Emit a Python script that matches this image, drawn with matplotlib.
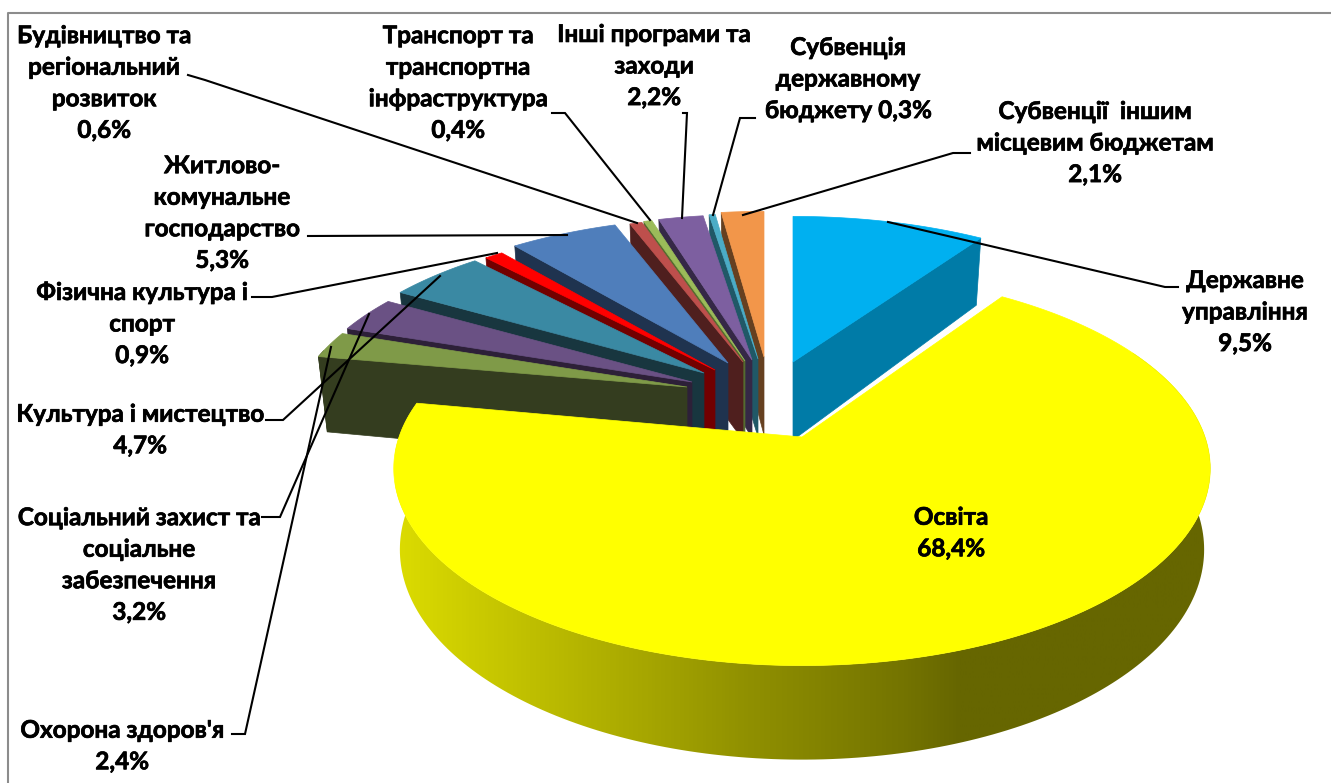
import numpy as np
import matplotlib
matplotlib.use('Agg')
import matplotlib.pyplot as plt
import matplotlib.patheffects as pe
from matplotlib.patches import Polygon
from matplotlib.colors import LinearSegmentedColormap

plt.rcParams['font.family'] = ['Lato', 'DejaVu Sans']

# data, in pie order (clockwise from 12 o'clock)
names = ["Державне\nуправління", "Освіта", "Охорона здоров'я",
         "Соціальний захист та\nсоціальне\nзабезпечення", "Культура і мистецтво",
         "Фізична культура і\nспорт", "Житлово-\nкомунальне\nгосподарство",
         "Будівництво та\nрегіональний\nрозвиток", "Транспорт та\nтранспортна\nінфраструктура",
         "Інші програми та\nзаходи", "Субвенція\nдержавному\nбюджету", "Субвенції  іншим\nмісцевим бюджетам"]
values = [9.5, 68.4, 2.4, 3.2, 4.7, 0.9, 5.3, 0.6, 0.4, 2.2, 0.3, 2.1]

# colours
top_col = ['#00B0F0', '#FFFF00', '#7F9A48', '#6A5184', '#3A89A3', '#FF0000',
           '#4F7EBB', '#BE4F4C', '#9BBB59', '#7D5FA0', '#4BACC6', '#F2964A']
side_col = ['#007BA7', '#666600', '#343D1F', '#2D2038', '#18363F', '#720000',
            '#1F334F', '#4F1F1E', '#556B2F', '#352846', '#205867', '#664020']

# where each slice tip sits (explosion), pixels
tip_x = [793, 802, 687, 692, 704, 715, 728, 743, 745, 752, 758, 764]
tip_y = [362, 437, 387, 382, 373, 370, 363, 362, 361, 360, 359, 357]
# perspective of the disc
rad_a = [388, 403] + [388] * 10
rad_b = [174, 192] + [174] * 10
persp = [0.195, 0.16] + [0.195] * 10
thick = [78, 79] + [78] * 10
shrink = [0.976, 0.985] + [0.976] * 10

# leader lines and label centres
leaders = [[(1178, 287), (1165, 287), (888, 222)], None,
           [(232, 734), (245, 734), (331, 347)],
           [(262, 517), (280, 517), (369, 314)],
           [(266, 420), (283, 420), (440, 276)],
           [(252, 297), (272, 297), (497, 253)],
           [(308, 236), (567, 235)],
           [(188, 75), (205, 80), (637, 223)],
           [(552, 113), (565, 113), (650, 220)],
           [(683, 113), (687, 113), (682, 218)],
           [(755, 118), (740, 118), (713, 215)],
           [(970, 153), (953, 153), (743, 215)]]
label_x = [1245, 951, 122, 139, 140, 142, 222, 104, 458, 654, 848, 1095]
label_y = [312, 533, 746, 565, 430, 324, 213, 83, 83, 66, 79, 143]

fig = plt.figure(figsize=(13.31, 7.83), dpi=100)
ax = fig.add_axes([0, 0, 1, 1])
ax.set_xlim(0, 1331)
ax.set_ylim(783, 0)
ax.axis('off')

# outer frame, only left and top are in the picture
ax.plot([8, 8, 1331], [783, 13, 13], color='#8C8C8C', lw=1.5, zorder=0)

edges = np.cumsum([0] + values) / 100 * 2 * np.pi


def disc(i, th):
    s = 1 + persp[i] * np.cos(th)
    x = tip_x[i] + rad_a[i] * np.sin(th) / s
    y = tip_y[i] - rad_b[i] * np.cos(th) / s
    return x, y


def lower(i, x, y, th):
    # the underside is a bit further from the viewer
    s = 1 + persp[i] * np.cos(th)
    return tip_x[i] + (x - tip_x[i]) * shrink[i], y + thick[i] / s


def sector(i):
    th = np.linspace(edges[i], edges[i + 1], 240)
    x, y = disc(i, th)
    return th, x, y


# back slices first: orange down to olive, then blue, then yellow
order = [11, 10, 9, 8, 7, 6, 5, 4, 3, 2, 0, 1]
for z, i in enumerate(order):
    th, x, y = sector(i)
    base = 2 + z * 2
    if i == 1:
        # curved front wall with the horizontal gradient
        keep = (th > np.pi / 2 - 0.5) & (th < 1.55 * np.pi + 0.5)
        xb, yb = lower(i, x[keep], y[keep], th[keep])
        wall = Polygon(np.r_[np.c_[x[keep], y[keep]], np.c_[xb, yb][::-1]], closed=True,
                       fc='none', ec='none')
        ax.add_patch(wall)
        cm = LinearSegmentedColormap.from_list('wall', [(0, '#DCDC00'), (0.09, '#CCCC00'), (0.25, '#B0B000'),
                                                        (0.43, '#909000'), (0.62, '#747400'), (0.69, '#666600'),
                                                        (1, '#666600')])
        im = ax.imshow(np.linspace(0, 1, 512).reshape(1, -1), cmap=cm, vmin=0, vmax=1, aspect='auto',
                       extent=[395, 1216, 783, 300], zorder=base)
        im.set_clip_path(wall)
    else:
        # radial wall seen under the slice
        j = 0 if i > 1 else -1
        tx, ty = x[j], y[j]
        bx, by = lower(i, tx, ty, th[j])
        ax.add_patch(Polygon([(tip_x[i], tip_y[i]), (tx, ty), (bx, by), (tip_x[i], tip_y[i] + thick[i])],
                             closed=True, fc=side_col[i], ec=side_col[i], lw=0.5, zorder=base))
        if i == 2:
            # olive rim at the far left
            xb, yb = lower(i, x[:60], y[:60], th[:60])
            ax.add_patch(Polygon(np.r_[np.c_[x[:60], y[:60]], np.c_[xb, yb][::-1]], closed=True,
                                 fc=side_col[i], ec=side_col[i], lw=0.5, zorder=base))
    ax.add_patch(Polygon(np.r_[[(tip_x[i], tip_y[i])], np.c_[x, y]], closed=True,
                         fc=top_col[i], ec=top_col[i], lw=0.5, zorder=base + 1))

# leaders
for pts in leaders:
    if pts is not None:
        ax.plot([p[0] for p in pts], [p[1] for p in pts], color='black', lw=1.5,
                solid_joinstyle='miter', zorder=40)

# labels
for i in range(len(names)):
    val = ('%.1f%%' % values[i]).replace('.', ',')
    sep = ' ' if i == 10 else '\n'
    t = ax.text(label_x[i], label_y[i], names[i] + sep + val, ha='center', va='center',
                multialignment='center', fontsize=17.5, fontweight='bold', color='black',
                linespacing=1.45, zorder=50)
    t.set_path_effects([pe.withStroke(linewidth=0.5, foreground='black')])

fig.savefig('out.png', dpi=100)
